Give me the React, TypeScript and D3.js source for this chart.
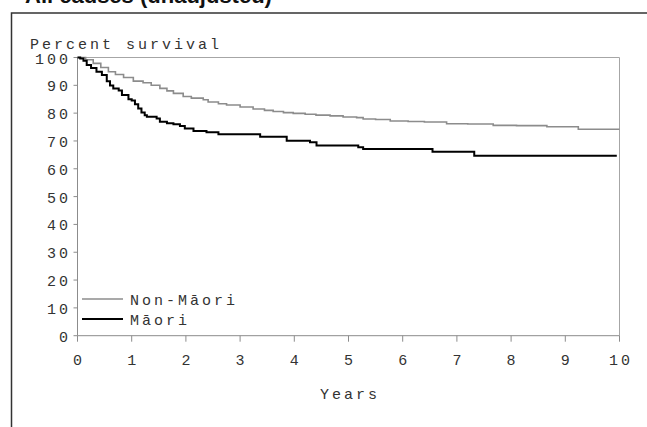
import React, { useEffect, useRef } from 'react';
import * as d3 from 'd3';

// Kaplan-Meier style survival curves (percent surviving)
const nonMaoriYears = [0, 0.15, 0.29, 0.43, 0.57, 0.7, 0.85, 1.03, 1.21, 1.36, 1.52, 1.65, 1.77, 1.95, 2.1, 2.32, 2.41, 2.6, 2.75, 3.0, 3.24, 3.45, 3.61, 3.8, 3.98, 4.2, 4.4, 4.66, 4.9, 5.15, 5.27, 5.5, 5.77, 6.1, 6.4, 6.81, 7.2, 7.67, 8.1, 8.66, 9.24, 10];
const nonMaoriSurvival = [100, 99.2, 97.9, 96.4, 94.9, 93.9, 92.8, 91.5, 90.9, 90.0, 88.9, 88.0, 87.1, 86.0, 85.4, 84.8, 84.0, 83.4, 82.9, 82.2, 81.5, 81.0, 80.6, 80.2, 79.9, 79.6, 79.3, 79.0, 78.6, 78.4, 77.9, 77.7, 77.2, 77.0, 76.8, 76.2, 76.1, 75.6, 75.5, 75.1, 74.2, 74.2];

const maoriYears = [0, 0.05, 0.11, 0.17, 0.25, 0.35, 0.45, 0.54, 0.6, 0.66, 0.76, 0.82, 0.94, 1.0, 1.06, 1.12, 1.18, 1.24, 1.28, 1.46, 1.52, 1.65, 1.77, 1.89, 1.98, 2.14, 2.38, 2.6, 3.37, 3.86, 4.29, 4.41, 5.18, 5.27, 6.55, 7.32, 9.95];
const maoriSurvival = [100, 99.6, 98.8, 97.3, 96.2, 94.9, 93.7, 91.5, 89.9, 88.9, 88.1, 86.5, 85.0, 84.5, 83.2, 81.7, 80.2, 79.2, 78.7, 78.1, 76.9, 76.4, 76.0, 75.4, 74.5, 73.6, 73.1, 72.4, 71.5, 70.1, 69.5, 68.4, 67.7, 67.1, 66.1, 64.7, 64.7];

const yTicks = [0, 10, 20, 30, 40, 50, 60, 70, 80, 90, 100];
const xTicks = [0, 1, 2, 3, 4, 5, 6, 7, 8, 9, 10];

const seriesNames = ['Non-Māori', 'Māori'];
const seriesColors = ['#8c8c8c', '#000000'];

const W = 647;
const H = 427;
const MONO = '"Liberation Mono", "DejaVu Sans Mono", monospace';
const LS = 3; // letter spacing
const TXT = '#333';

const App = () => {
  const ref = useRef<SVGSVGElement | null>(null);

  useEffect(() => {
    if (!ref.current) return;
    const svg = d3.select(ref.current);
    svg.selectAll('*').remove();

    const x = d3.scaleLinear().domain([0, 10]).range([77.5, 619.5]);
    const y = d3.scaleLinear().domain([0, 100]).range([335.7, 57.5]);

    // title, cut off by the top edge
    svg.append('text')
      .attr('x', 25)
      .attr('y', 3)
      .style('font-family', '"Liberation Sans", Arial, sans-serif')
      .style('font-weight', 'bold')
      .style('font-size', '22px')
      .attr('fill', '#111')
      .text('All causes (unadjusted)');

    // outer frame (left + top)
    svg.append('path')
      .attr('d', `M11.5,${H} V13 H${W}`)
      .attr('fill', 'none')
      .attr('stroke', '#333')
      .attr('stroke-width', 1.5);

    // plot box top + right
    svg.append('path')
      .attr('d', `M${x(0)},${y(100)} H${x(10)} V${y(0)}`)
      .attr('fill', 'none')
      .attr('stroke', '#a6a6a6')
      .attr('stroke-width', 1);

    // y axis
    const yAxis = svg.append('g');
    yAxis.append('line')
      .attr('x1', x(0)).attr('x2', x(0))
      .attr('y1', y(0)).attr('y2', y(100))
      .attr('stroke', '#8c8c8c');
    yAxis.selectAll('line.tick')
      .data(yTicks)
      .enter()
      .append('line')
      .attr('class', 'tick')
      .attr('x1', x(0) - 4).attr('x2', x(0))
      .attr('y1', d => y(d)).attr('y2', d => y(d))
      .attr('stroke', '#8c8c8c');
    yAxis.selectAll('text')
      .data(yTicks)
      .enter()
      .append('text')
      .attr('x', 68 + LS)
      .attr('y', d => y(d) + 6)
      .attr('text-anchor', 'end')
      .style('font-family', MONO)
      .style('font-size', '15px')
      .style('letter-spacing', `${LS}px`)
      .attr('fill', TXT)
      .text(d => d);

    // x axis
    const xAxis = svg.append('g');
    xAxis.append('line')
      .attr('x1', x(0)).attr('x2', x(10))
      .attr('y1', y(0)).attr('y2', y(0))
      .attr('stroke', '#8c8c8c');
    xAxis.selectAll('line.tick')
      .data(xTicks)
      .enter()
      .append('line')
      .attr('class', 'tick')
      .attr('x1', d => x(d)).attr('x2', d => x(d))
      .attr('y1', y(0)).attr('y2', y(0) + 6)
      .attr('stroke', '#8c8c8c');
    xAxis.selectAll('text')
      .data(xTicks)
      .enter()
      .append('text')
      .attr('x', d => x(d) + LS / 2)
      .attr('y', 365)
      .attr('text-anchor', 'middle')
      .style('font-family', MONO)
      .style('font-size', '15px')
      .style('letter-spacing', `${LS}px`)
      .attr('fill', TXT)
      .text(d => d);

    // axis titles
    svg.append('text')
      .attr('x', 30)
      .attr('y', 49)
      .style('font-family', MONO)
      .style('font-size', '15px')
      .style('letter-spacing', `${LS}px`)
      .attr('fill', TXT)
      .text('Percent survival');
    svg.append('text')
      .attr('x', (x(0) + x(10)) / 2 + LS / 2)
      .attr('y', 399)
      .attr('text-anchor', 'middle')
      .style('font-family', MONO)
      .style('font-size', '15px')
      .style('letter-spacing', `${LS}px`)
      .attr('fill', TXT)
      .text('Years');

    // curves
    const line = d3.line<[number, number]>()
      .x(d => x(d[0]))
      .y(d => y(d[1]))
      .curve(d3.curveStepAfter);

    const series = [
      nonMaoriYears.map((t, i) => [t, nonMaoriSurvival[i]] as [number, number]),
      maoriYears.map((t, i) => [t, maoriSurvival[i]] as [number, number]),
    ];

    svg.selectAll('path.curve')
      .data(series)
      .enter()
      .append('path')
      .attr('class', 'curve')
      .attr('d', d => line(d))
      .attr('fill', 'none')
      .attr('stroke', (d, i) => seriesColors[i])
      .attr('stroke-width', (d, i) => (i === 1 ? 2 : 1.6));

    // legend
    const legend = svg.selectAll('g.legend')
      .data(seriesNames)
      .enter()
      .append('g')
      .attr('class', 'legend')
      .attr('transform', (d, i) => `translate(0,${299 + i * 20})`);
    legend.append('line')
      .attr('x1', 82).attr('x2', 123)
      .attr('y1', 0).attr('y2', 0)
      .attr('stroke', (d, i) => seriesColors[i])
      .attr('stroke-width', (d, i) => (i === 1 ? 2 : 1.6));
    legend.append('text')
      .attr('x', 130)
      .attr('y', 6)
      .style('font-family', MONO)
      .style('font-size', '15px')
      .style('letter-spacing', `${LS}px`)
      .attr('fill', TXT)
      .text(d => d);
  }, []);

  return (
    <svg
      ref={ref}
      width={W}
      height={H}
      style={{ position: 'absolute', left: 0, top: 0, background: '#fff' }}
    />
  );
};

export default App;
